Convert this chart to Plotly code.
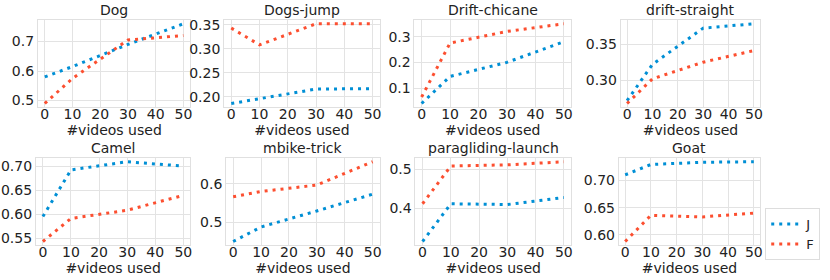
import plotly.graph_objects as go

x_videos = [0, 10, 30, 50]
titles = ["Dog", "Dogs-jump", "Drift-chicane", "drift-straight",
          "Camel", "mbike-trick", "paragliding-launch", "Goat"]
J_vals = [
    [0.580, 0.615, 0.690, 0.760],
    [0.186, 0.196, 0.216, 0.217],
    [0.040, 0.145, 0.200, 0.280],
    [0.272, 0.322, 0.372, 0.378],
    [0.595, 0.692, 0.709, 0.700],
    [0.449, 0.487, 0.529, 0.573],
    [0.315, 0.412, 0.410, 0.428],
    [0.710, 0.729, 0.733, 0.734],
]
F_vals = [
    [0.490, 0.575, 0.705, 0.720],
    [0.343, 0.308, 0.352, 0.352],
    [0.065, 0.275, 0.320, 0.350],
    [0.268, 0.302, 0.325, 0.341],
    [0.543, 0.591, 0.608, 0.639],
    [0.566, 0.580, 0.597, 0.658],
    [0.412, 0.509, 0.512, 0.520],
    [0.588, 0.636, 0.633, 0.640],
]
y_ticks = [
    [0.5, 0.6, 0.7],
    [0.20, 0.25, 0.30, 0.35],
    [0.1, 0.2, 0.3],
    [0.30, 0.35],
    [0.55, 0.60, 0.65, 0.70],
    [0.5, 0.6],
    [0.4, 0.5],
    [0.60, 0.65, 0.70],
]
y_tick_text = [
    ["0.5", "0.6", "0.7"],
    ["0.20", "0.25", "0.30", "0.35"],
    ["0.1", "0.2", "0.3"],
    ["0.30", "0.35"],
    ["0.55", "0.60", "0.65", "0.70"],
    ["0.5", "0.6"],
    ["0.4", "0.5"],
    ["0.60", "0.65", "0.70"],
]
series_names = ["J", "F"]
colors = ["#008fd5", "#fc4f30"]

W, H = 830, 280
x_px = [[38, 191], [225, 381], [416, 573], [623, 763],
        [36, 191], [227, 381], [417, 573], [621, 763]]
y_px = [[17, 106]] * 4 + [[157, 246]] * 4

fig = go.Figure()
font = "DejaVu Sans"
for i in range(8):
    ax = "" if i == 0 else str(i + 1)
    for s, (name, vals) in enumerate(zip(series_names, [J_vals, F_vals])):
        fig.add_trace(go.Scatter(
            x=x_videos, y=vals[i], mode="lines", name=name,
            line=dict(color=colors[s], width=3, dash="3px,5px"),
            xaxis="x" + ax, yaxis="y" + ax, showlegend=(i == 0)))
    allv = J_vals[i] + F_vals[i]
    lo, hi = min(allv), max(allv)
    pad = (hi - lo) * 0.05
    dom_x = [x_px[i][0] / W, x_px[i][1] / W]
    dom_y = [1 - y_px[i][1] / H, 1 - y_px[i][0] / H]
    common = dict(showline=True, linecolor="#e0e0e0", linewidth=1, mirror=True,
                  gridcolor="#e3e3e3", gridwidth=1, zeroline=False, ticks="",
                  tickfont=dict(family=font, size=14, color="#222"))
    fig.update_layout(**{
        "xaxis" + ax: dict(domain=dom_x, range=[-2.5, 52.5], anchor="y" + ax,
                           tickvals=[0, 10, 20, 30, 40, 50],
                           ticklabelstandoff=-6,
                           title=dict(text="#videos used", standoff=2,
                                      font=dict(family=font, size=14, color="#222")),
                           **common),
        "yaxis" + ax: dict(domain=dom_y, range=[lo - pad, hi + pad], anchor="x" + ax,
                           tickvals=y_ticks[i], ticktext=y_tick_text[i], **common),
    })
    fig.add_annotation(text=titles[i], x=(dom_x[0] + dom_x[1]) / 2, y=dom_y[1],
                       xref="paper", yref="paper", xanchor="center", yanchor="bottom",
                       yshift=0, showarrow=False,
                       font=dict(family=font, size=14, color="#222"))

fig.update_layout(
    width=W, height=H, margin=dict(l=0, r=0, t=0, b=0),
    paper_bgcolor="white", plot_bgcolor="white",
    legend=dict(x=768 / W, y=1 - 208 / H, xanchor="left", yanchor="top",
                bordercolor="#dddddd", borderwidth=1, bgcolor="white",
                font=dict(family=font, size=13, color="#222"),
                itemwidth=30),
)
fig.write_html("out.html", config={"displayModeBar": False},
               post_script="document.body.style.margin='0px';document.body.style.padding='0px';")
